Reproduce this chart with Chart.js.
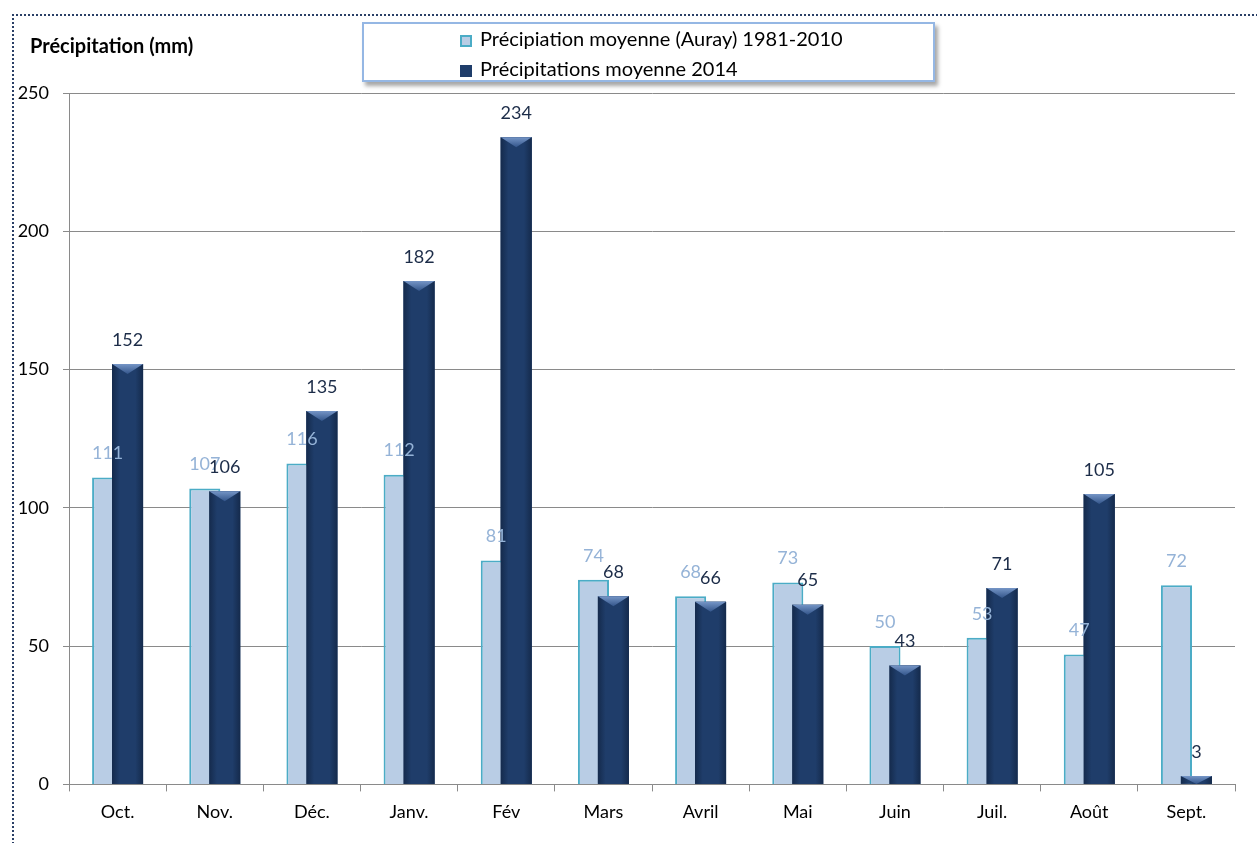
<!DOCTYPE html>
<html>
<head>
<meta charset="utf-8">
<script src="https://cdn.jsdelivr.net/npm/chart.js@4.4.1/dist/chart.umd.min.js"></script>
<style>
    body { margin: 0; background: #fff; font-family: Lato, sans-serif; }
    #wrap { position: relative; width: 1257px; height: 843px; overflow: hidden; }
    #frame {
        position: absolute; left: 12px; top: 14px; width: 1300px; height: 900px;
        border-left: 2px dotted #2a3f66; border-top: 2px dotted #2a3f66;
    }
    canvas { position: absolute; left: 0; top: 0; }
    #title { position: absolute; left: 30px; top: 33px; font-size: 20px; line-height: 24px; font-weight: bold; color: #000; }
    #legend {
        position: absolute; left: 362px; top: 22px; width: 569px; height: 56px;
        border: 2px solid #95b7e4; background: #fff;
        box-shadow: 3px 4px 4px rgba(0, 0, 0, 0.35);
    }
    .item { position: absolute; left: 96px; font-size: 20px; line-height: 24px; color: #000; white-space: nowrap; }
    .swatch { display: inline-block; width: 12px; height: 12px; box-sizing: border-box; margin-right: 8px; vertical-align: -1px; }
</style>
</head>
<body>
<div id="wrap">
    <div id="frame"></div>
    <canvas id="rainChart" width="1257" height="843"></canvas>
    <div id="title">Précipitation (mm)</div>
    <div id="legend"></div>
</div>
<script>
// Précipitations mensuelles, Auray
const months = ['Oct.', 'Nov.', 'Déc.', 'Janv.', 'Fév', 'Mars', 'Avril', 'Mai', 'Juin', 'Juil.', 'Août', 'Sept.'];
const normal19812010 = [111, 107, 116, 112, 81, 74, 68, 73, 50, 53, 47, 72];
const rain2014 = [152, 106, 135, 182, 234, 68, 66, 65, 43, 71, 105, 3];
const yTicks = [0, 50, 100, 150, 200, 250];

const LIGHT = '#b9cde5';
const LIGHT_EDGE = '#4bacc6';
const DARK = '#1f3d6a';

Chart.defaults.font.family = 'Lato';
Chart.defaults.font.size = 18;
Chart.defaults.color = '#000';

// les barres 2014 passent devant, avec un petit effet biseau
const darkOnTop = {
    id: 'darkOnTop',
    afterDatasetsDraw(chart) {
        const ctx = chart.ctx;
        chart.data.datasets.forEach((ds, i) => {
            if (!ds.bevel) return;
            const meta = chart.getDatasetMeta(i);
            meta.controller.draw();
            ctx.save();
            meta.data.forEach(bar => {
                const { x, y, base, width } = bar.getProps(['x', 'y', 'base', 'width'], true);
                const l = x - width / 2, r = x + width / 2, h = base - y;
                const g = ctx.createLinearGradient(l, 0, r, 0);
                g.addColorStop(0, 'rgba(8,20,40,0.45)');
                g.addColorStop(0.25, 'rgba(8,20,40,0)');
                g.addColorStop(0.75, 'rgba(8,20,40,0)');
                g.addColorStop(1, 'rgba(8,20,40,0.45)');
                ctx.fillStyle = g;
                ctx.fillRect(l, y, width, h);
                const t = Math.min(10, h);
                const tg = ctx.createLinearGradient(0, y, 0, y + t);
                tg.addColorStop(0, '#7595c6');
                tg.addColorStop(1, '#33558a');
                ctx.fillStyle = tg;
                ctx.beginPath();
                ctx.moveTo(l, y);
                ctx.lineTo(r, y);
                ctx.lineTo(x, y + t);
                ctx.closePath();
                ctx.fill();
            });
            ctx.restore();
        });
    }
};

// valeurs au-dessus des barres
const valueLabels = {
    id: 'valueLabels',
    afterDatasetsDraw(chart) {
        const ctx = chart.ctx;
        ctx.save();
        ctx.font = '18px Lato';
        ctx.textAlign = 'center';
        ctx.textBaseline = 'middle';
        chart.data.datasets.forEach((ds, i) => {
            ctx.fillStyle = ds.labelColor;
            chart.getDatasetMeta(i).data.forEach((bar, j) => {
                ctx.fillText(String(ds.data[j]), bar.x, bar.y - 24);
            });
        });
        ctx.restore();
    }
};

const ctx = document.getElementById('rainChart').getContext('2d');
const rainChart = new Chart(ctx, {
    type: 'bar',
    data: {
        labels: months,
        datasets: [
            {
                label: 'Précipiation moyenne (Auray) 1981-2010',
                data: normal19812010,
                backgroundColor: LIGHT,
                borderColor: LIGHT_EDGE,
                borderWidth: 2,
                borderSkipped: 'bottom',
                labelColor: '#95b3d7'
            },
            {
                label: 'Précipitations moyenne 2014',
                data: rain2014,
                backgroundColor: DARK,
                borderWidth: 0,
                labelColor: '#1c2c48',
                bevel: true
            }
        ]
    },
    options: {
        responsive: false,
        animation: false,
        categoryPercentage: 0.41,
        barPercentage: 1.56,
        datasets: {
            bar: { categoryPercentage: 0.41, barPercentage: 1.56 }
        },
        layout: {
            padding: { left: 12, right: 22, top: 93, bottom: 10 }
        },
        plugins: {
            legend: { display: false },
            tooltip: { enabled: false }
        },
        scales: {
            x: {
                grid: {
                    drawOnChartArea: false,
                    tickLength: 7,
                    color: '#8a8a8a'
                },
                border: { color: '#8a8a8a' },
                ticks: { padding: 10, color: '#000' }
            },
            y: {
                min: yTicks[0],
                max: yTicks[yTicks.length - 1],
                afterBuildTicks(scale) {
                    scale.ticks = yTicks.map(v => ({ value: v }));
                },
                afterFit(scale) {
                    scale.width = 57;
                },
                grid: {
                    color: '#8a8a8a',
                    tickLength: 6
                },
                border: { color: '#8a8a8a' },
                ticks: { padding: 14, color: '#000' }
            }
        }
    },
    plugins: [darkOnTop, valueLabels]
});

// légende dans un cadre, construite depuis les datasets
const legend = document.getElementById('legend');
rainChart.data.datasets.forEach((ds, i) => {
    const item = document.createElement('div');
    item.className = 'item';
    item.style.top = (2 + i * 30) + 'px';
    const sw = document.createElement('span');
    sw.className = 'swatch';
    sw.style.background = ds.backgroundColor;
    if (ds.borderWidth) sw.style.border = '2px solid ' + ds.borderColor;
    item.appendChild(sw);
    item.appendChild(document.createTextNode(ds.label));
    legend.appendChild(item);
});
</script>
</body>
</html>
